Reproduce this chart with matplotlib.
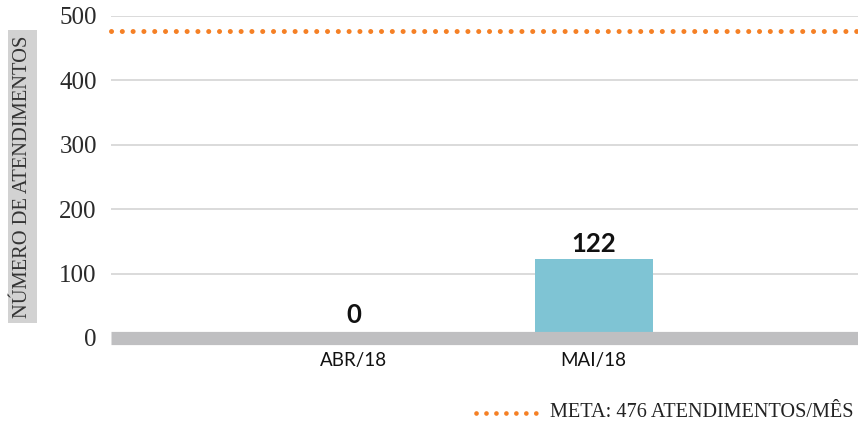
import matplotlib
matplotlib.use("Agg")
import matplotlib.pyplot as plt

# dados
meses = ["ABR/18", "MAI/18"]
atendimentos = [0, 122]
meta = 476
yticks = [0, 100, 200, 300, 400, 500]

cor_barra = "#7fc4d4"
cor_meta = "#f58025"
cor_base = "#bfbfc1"
cor_grade = "#d4d4d4"

fig = plt.figure(figsize=(8.58, 4.30), dpi=100)
ax = fig.add_axes([0.129, 0.214, 0.871, 0.749])

x = list(range(len(meses)))
ax.bar(x, atendimentos, width=0.49, color=cor_barra, zorder=2)

# linha de base grossa no zero
ax.axhline(0, color=cor_base, linewidth=9.5, zorder=3, clip_on=False,
           solid_capstyle="butt")

# meta
ax.axhline(meta, color=cor_meta, linewidth=3.6, linestyle=(0, (0.01, 2.15)),
           dash_capstyle="round", zorder=4, clip_on=False)

# rótulos de dados (acima da barra ou da faixa de base)
for xi, v in zip(x, atendimentos):
    ax.text(xi, max(v, 11) + 6, str(v), ha="center", va="bottom", fontsize=18.5,
            fontweight="bold", family="Lato", color="#111111", zorder=5)

ax.set_xlim(-1.01, 2.1)
ax.set_ylim(0, 500)
ax.set_yticks(yticks)
ax.set_yticklabels([str(t) for t in yticks], family="Liberation Serif",
                   fontsize=18, color="#2a2a2a")
ax.set_xticks(x)
ax.set_xticklabels(meses, family="Lato", fontsize=13.5, color="#111111")
ax.tick_params(axis="y", length=0, pad=10)
ax.tick_params(axis="x", length=0, pad=10)

for t in yticks[1:]:
    ax.axhline(t, color=cor_grade, linewidth=1.2, zorder=1)

for s in ax.spines.values():
    s.set_visible(False)

# título do eixo com fundo cinza
fig.text(0.026, 0.5895, "NÚMERO DE ATENDIMENTOS", rotation=90, ha="center",
         va="center", family="Liberation Serif", fontsize=14.8, color="#333333",
         bbox=dict(boxstyle="square,pad=0.25", fc="#d2d2d2", ec="none"))

# legenda
ax_leg = fig.add_axes([0.553, 0.0, 0.083, 0.08])
ax_leg.plot([0, 1], [0.5, 0.5], color=cor_meta, linewidth=3.4,
            linestyle=(0, (0.01, 2.1)), dash_capstyle="round")
ax_leg.set_xlim(-0.02, 1.02)
ax_leg.set_ylim(0, 1)
ax_leg.axis("off")
fig.text(0.641, 0.04, "META: 476 ATENDIMENTOS/MÊS", ha="left", va="center",
         family="Liberation Serif", fontsize=14.6, color="#222222")

fig.savefig("out.png", dpi=100)
